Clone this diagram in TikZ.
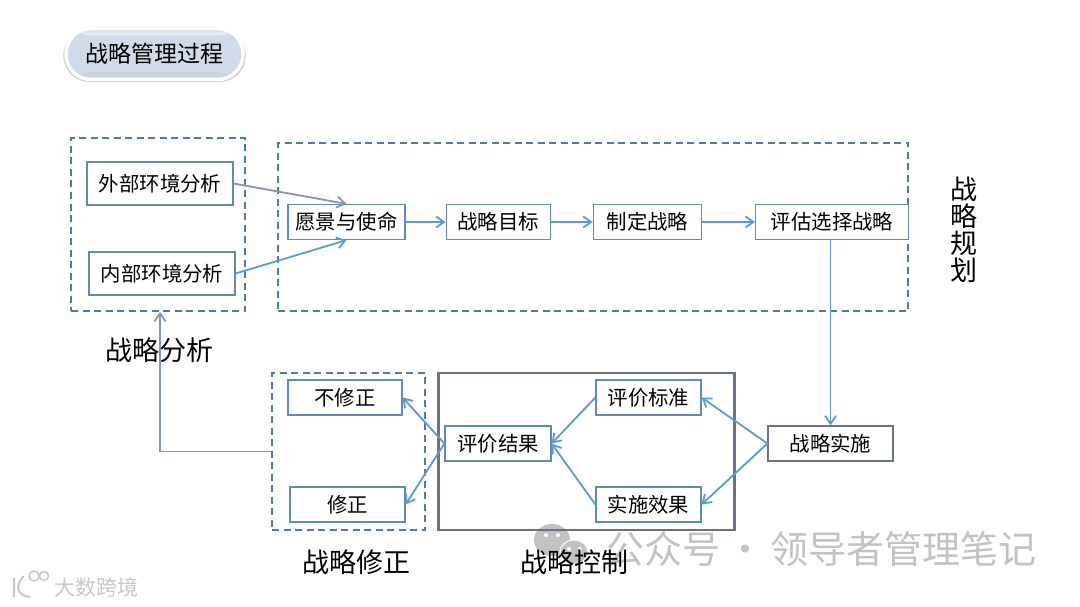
\documentclass[tikz,border=0pt]{standalone}
\usepackage{fontspec}
\setmainfont{Noto Sans CJK SC}
\usetikzlibrary{arrows.meta,positioning,shadows}
\definecolor{boxblue}{HTML}{6288C0}
\definecolor{dashblue}{HTML}{4F78B8}
\definecolor{arrowblue}{HTML}{5B9BD5}
\definecolor{arrowgray}{HTML}{8497B0}
\definecolor{framegray}{HTML}{687485}
\definecolor{markgray}{HTML}{C2C2C2}
\definecolor{pillblue}{HTML}{D1DAE9}
\definecolor{pilledge}{HTML}{8E97AA}
\definecolor{pilltop}{HTML}{EEF1F7}
\begin{document}
\begin{tikzpicture}[
  x=1pt,
  y=-1pt,
  stepbox/.style={draw=boxblue, line width=1.2pt, fill=white, align=center, inner sep=0pt, minimum height=35pt, font=\fontsize{20.4}{24}\selectfont},
  group/.style={draw=dashblue, line width=1.5pt, dash pattern=on 7pt off 4.5pt, inner sep=0pt},
  caption/.style={inner sep=0pt, font=\fontsize{27}{30}\selectfont},
  arr/.style={-{Straight Barb[length=8pt,width=11pt]}, line width=1.8pt, draw=arrowblue},
  grayarr/.style={arr, draw=arrowgray}
]
\useasboundingbox (0,0) rectangle (1080,607);

% watermarks
\fill[markgray] (552,540) ellipse (18pt and 16pt);
\fill[markgray, draw=white, line width=1pt] (574,552) ellipse (14pt and 12pt);
\foreach \ex/\ey in {546/535, 558/535, 569/549, 580/549} \fill[white] (\ex,\ey) circle (2pt);
\node[text=markgray, inner sep=0pt, anchor=west, font=\fontsize{38}{40}\selectfont] (mark) at (606,549) {公众号\hspace{6pt}·\hspace{6pt}领导者管理笔记};
\node[text=black!22, inner sep=0pt, anchor=west, font=\fontsize{21}{24}\selectfont] (site) at (54,587) {大数跨境};
\draw[black!22, line width=2pt] (14,578) -- (14,597) (24,576) .. controls (15,584) and (16,596) .. (30,597);
\draw[black!22, line width=1.5pt] (34,576) circle (5pt) (44,576) circle (4.5pt);

\node[draw=white, line width=3.5pt, rounded corners=25pt, minimum width=177pt, minimum height=51pt, inner sep=0pt,
  fill=pillblue, drop shadow={shadow xshift=0pt, shadow yshift=-1.5pt, shadow scale=1.03, fill=black!40},
  path picture={
    \shade[top color=pilledge, bottom color=pillblue] ([yshift=7pt]path picture bounding box.south west) rectangle (path picture bounding box.south east);
    \shade[top color=pillblue, bottom color=pilltop] (path picture bounding box.north west) rectangle ([yshift=-7pt]path picture bounding box.north east);
  },
  font=\fontsize{23}{26}\selectfont] (title) at (154.5,54) {战略管理过程};

\node[group, minimum width=174pt, minimum height=173pt] (analysis) at (158,224.5) {};
\node[group, minimum width=630pt, minimum height=168pt] (planning) at (593,227) {};
\node[group, minimum width=153pt, minimum height=157pt] (fixing) at (348.5,451.5) {};
\node[draw=framegray, line width=2.6pt, inner sep=0pt, minimum width=296pt, minimum height=157pt] (control) at (586.5,451.5) {};

\node[stepbox, minimum width=146pt, minimum height=43pt] (outer) at (160,183.5) {外部环境分析};
\node[stepbox, minimum width=146pt, minimum height=43pt] (inner) at (162,273.5) {内部环境分析};

\node[stepbox, minimum width=117pt] (vision) at (346.5,222) {愿景与使命};
\node[stepbox, minimum width=104pt, right=40pt of vision] (goal) {战略目标};
\node[stepbox, minimum width=108pt, right=42pt of goal] (make) {制定战略};
\node[stepbox, minimum width=153pt, right=53pt of make] (choose) {评估选择战略};

\node[stepbox, minimum width=114pt] (nofix) at (345,397.5) {不修正};
\node[stepbox, minimum width=115pt] (fix) at (347.5,504.5) {修正};
\node[stepbox, minimum width=106pt] (result) at (498,443.5) {评价结果};
\node[stepbox, minimum width=105pt] (standard) at (648.5,397.5) {评价标准};
\node[stepbox, minimum width=105pt] (effect) at (648.5,504.5) {实施效果};
\node[stepbox, draw=framegray, minimum width=125pt] (apply) at (830.5,443.5) {战略实施};

\node[caption] (capa) at (159.5,350) {战略分析};
\node[caption, align=center, font=\fontsize{27}{27}\selectfont] (capb) at (964,230) {战\\略\\规\\划};
\node[caption] (capc) at (356,562) {战略修正};
\node[caption] (capd) at (574,562) {战略控制};

\draw[grayarr] (outer.east) -- (vision.north);
\draw[arr] (inner.east) -- (vision.south);
\draw[arr] (vision) -- (goal);
\draw[arr] (goal) -- (make);
\draw[arr] (make) -- (choose);
\draw[arr] (choose.south -| apply.north) -- (apply.north);
\draw[arr] (apply.west) -- (standard.east);
\draw[arr] (apply.west) -- (effect.east);
\draw[arr] (standard.west) -- (result.east);
\draw[arr] (effect.west) -- (result.east);
\draw[arr] (result.west) -- (nofix.east);
\draw[arr] (result.west) -- (fix.east);
\draw[grayarr] (fixing.west) -| ([xshift=2pt]analysis.south);
\end{tikzpicture}
\end{document}
